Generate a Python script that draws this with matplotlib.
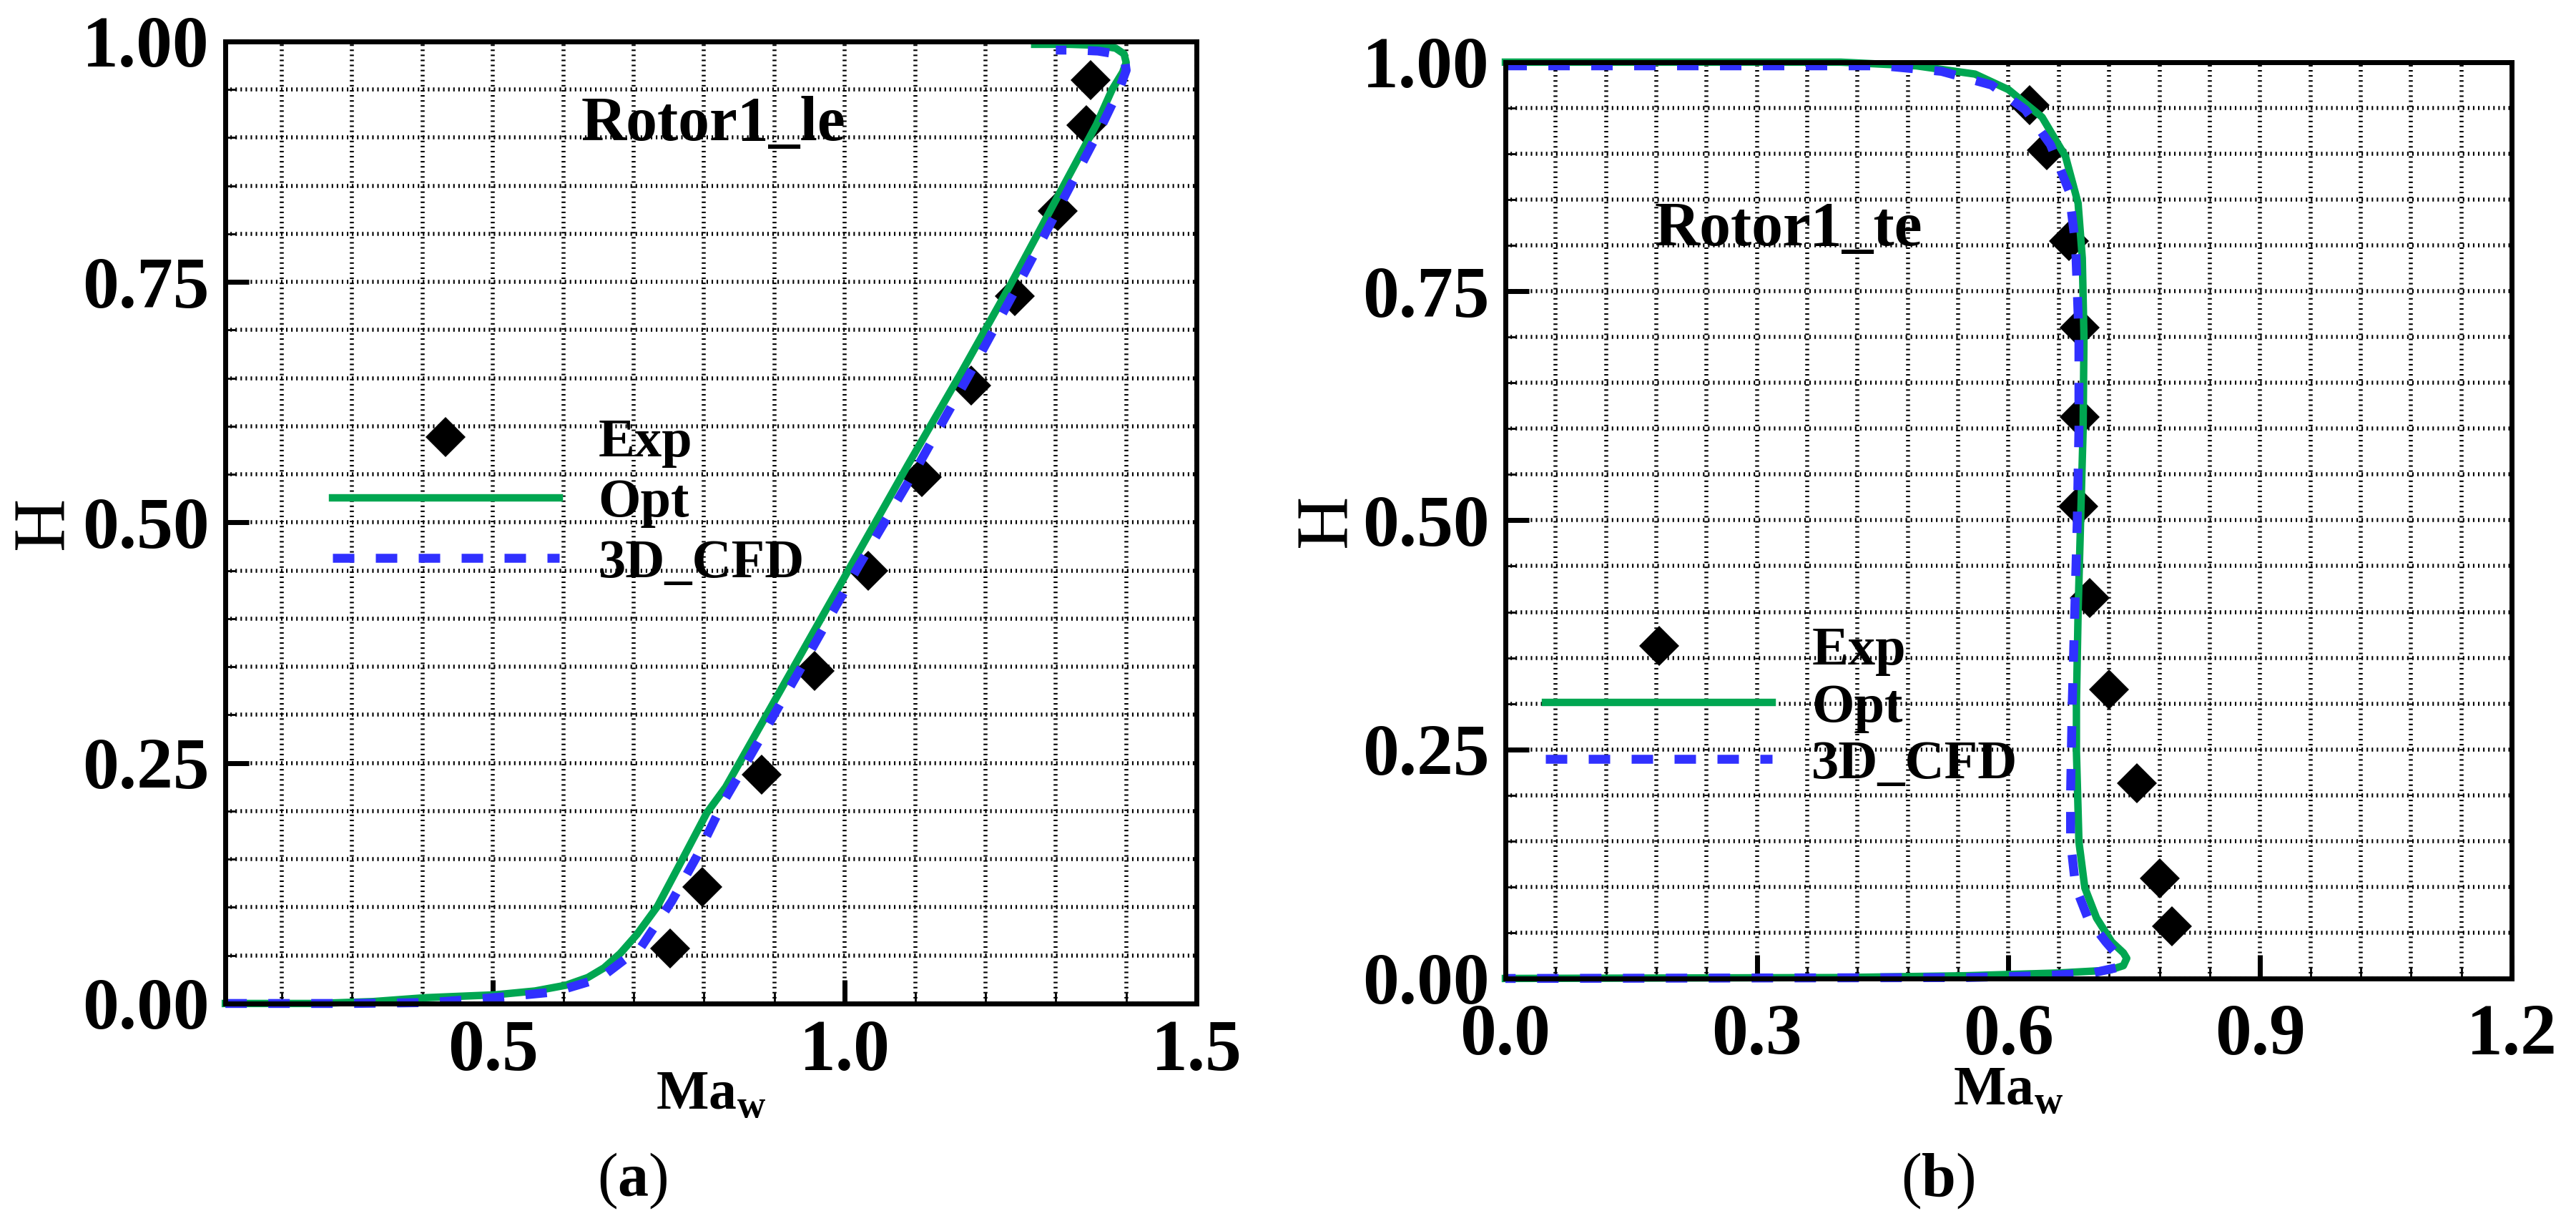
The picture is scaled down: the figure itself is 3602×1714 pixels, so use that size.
import numpy as np
import matplotlib
matplotlib.use('Agg')
import matplotlib.pyplot as plt
from matplotlib.ticker import MultipleLocator, FormatStrFormatter

# (a) Rotor1_le
le_exp_ma = [0.752, 0.798, 0.882, 0.957, 1.033, 1.110, 1.180, 1.242, 1.303, 1.343, 1.349]
le_exp_h = [0.057, 0.121, 0.238, 0.346, 0.450, 0.547, 0.642, 0.735, 0.824, 0.913, 0.960]
le_opt_ma = [0.12, 0.25, 0.33, 0.404, 0.503, 0.56, 0.604, 0.635, 0.658, 0.681, 0.705, 0.734,
             0.763, 0.804, 0.831, 0.92, 1.005, 1.09, 1.165, 1.237, 1.30, 1.358, 1.38, 1.395,
             1.40, 1.397, 1.385, 1.36, 1.32, 1.27]
le_opt_h = [0.0, 0.0, 0.002, 0.006, 0.009, 0.013, 0.019, 0.027, 0.037, 0.052, 0.072, 0.101,
            0.141, 0.198, 0.225, 0.34, 0.45, 0.56, 0.655, 0.749, 0.835, 0.914, 0.95, 0.968,
            0.978, 0.987, 0.993, 0.996, 0.997, 0.997]
le_cfd_ma = [0.12, 0.30, 0.412, 0.518, 0.588, 0.652, 0.711, 0.754, 0.79, 0.828, 0.86, 0.935,
             1.02, 1.105, 1.178, 1.245, 1.31, 1.365, 1.39, 1.40, 1.398, 1.385, 1.36, 1.33, 1.30]
le_cfd_h = [0.0, 0.0, 0.001, 0.007, 0.012, 0.026, 0.059, 0.106, 0.153, 0.21, 0.25, 0.345,
            0.455, 0.56, 0.655, 0.745, 0.835, 0.912, 0.95, 0.97, 0.98, 0.987, 0.99, 0.991, 0.991]

# (b) Rotor1_te
te_exp_ma = [0.625, 0.646, 0.672, 0.685, 0.685, 0.683, 0.697, 0.720, 0.753, 0.780, 0.795]
te_exp_h = [0.953, 0.904, 0.805, 0.710, 0.613, 0.515, 0.415, 0.315, 0.213, 0.109, 0.057]
te_opt_ma = [0.0, 0.40, 0.49, 0.56, 0.60, 0.64, 0.668, 0.683, 0.688, 0.690, 0.689, 0.686,
             0.683, 0.681, 0.681, 0.684, 0.691, 0.705, 0.723, 0.737, 0.741, 0.737, 0.72,
             0.66, 0.55, 0.40, 0.0]
te_opt_h = [1.0, 1.0, 0.996, 0.987, 0.970, 0.940, 0.897, 0.846, 0.786, 0.70, 0.60, 0.50,
            0.40, 0.30, 0.248, 0.149, 0.099, 0.066, 0.040, 0.028, 0.022, 0.014, 0.009,
            0.006, 0.003, 0.001, 0.0]
te_cfd_ma = [0.0, 0.45, 0.52, 0.58, 0.62, 0.65, 0.672, 0.68, 0.684, 0.684, 0.682, 0.679,
             0.676, 0.674, 0.674, 0.68, 0.695, 0.716, 0.733, 0.73, 0.70, 0.64, 0.55, 0.0]
te_cfd_h = [0.996, 0.996, 0.99, 0.975, 0.948, 0.91, 0.86, 0.80, 0.70, 0.60, 0.50, 0.40,
            0.30, 0.20, 0.15, 0.10, 0.065, 0.04, 0.022, 0.012, 0.006, 0.003, 0.001, 0.0]

labels = ['Exp', 'Opt', '3D_CFD']
green = '#00a651'
blue = '#3030ff'

plt.rcParams['font.family'] = ['Liberation Serif', 'DejaVu Serif']
plt.rcParams['font.weight'] = 'bold'
plt.rcParams['mathtext.fontset'] = 'custom'
plt.rcParams['mathtext.bf'] = 'Liberation Serif:bold'
plt.rcParams['mathtext.rm'] = 'Liberation Serif'
plt.rcParams['lines.scale_dashes'] = False


def draw_panel(ax, exp_ma, exp_h, opt_ma, opt_h, cfd_ma, cfd_h, xlim, xmajor, xminor,
               title, title_xy, leg_xy, leg_space, xlab_y, ylab_x, xpad):
    ax.set_xlim(*xlim)
    ax.set_ylim(0, 1)
    ax.xaxis.set_major_locator(MultipleLocator(xmajor))
    ax.xaxis.set_minor_locator(MultipleLocator(xminor))
    ax.yaxis.set_major_locator(MultipleLocator(0.25))
    ax.yaxis.set_minor_locator(MultipleLocator(0.05))
    ax.xaxis.set_major_formatter(FormatStrFormatter('%.1f'))
    ax.yaxis.set_major_formatter(FormatStrFormatter('%.2f'))
    ax.grid(which='both', color='k', linestyle=(0, (1.5, 3.6)), linewidth=4)
    ax.tick_params(which='major', direction='in', length=24, width=5, labelsize=73,
                   top=False, right=False)
    ax.tick_params(axis='x', which='major', pad=xpad)
    ax.tick_params(axis='y', which='major', pad=16)
    ax.tick_params(which='minor', direction='in', length=11, width=2, top=False, right=False)
    for s in ax.spines.values():
        s.set_linewidth(5)
        s.set_zorder(10)

    h1, = ax.plot(exp_ma, exp_h, linestyle='none', marker='D', ms=29, color='k', mew=0,
                  zorder=3, clip_on=False)
    h2, = ax.plot(opt_ma, opt_h, color=green, lw=7.5, zorder=4, clip_on=False,
                  solid_joinstyle='round')
    h3, = ax.plot(cfd_ma, cfd_h, color=blue, lw=9, dashes=(21.6, 21.6), zorder=5,
                  clip_on=False, dash_capstyle='butt')

    ax.legend([h1, h2, h3], labels, loc='center left', bbox_to_anchor=leg_xy,
              frameon=False, borderpad=0, borderaxespad=0, handlelength=4.15,
              handletextpad=0.72, labelspacing=leg_space, numpoints=1,
              prop={'size': 55, 'weight': 'bold'})
    ax.text(title_xy[0], title_xy[1], title, transform=ax.transAxes, fontsize=63,
            ha='left', va='baseline')
    ax.set_xlabel(r'$\mathbf{Ma}_\mathbf{w}$', fontsize=56, va='baseline')
    ax.xaxis.set_label_coords(0.5, xlab_y)
    ax.set_ylabel('H', fontsize=74, va='center', ha='center')
    ax.yaxis.set_label_coords(ylab_x, 0.5)


fig = plt.figure(figsize=(36.02, 17.14), dpi=100)
ax1 = fig.add_axes([0.0875, 0.1815, 0.3770, 0.7847])
ax2 = fig.add_axes([0.5844, 0.2019, 0.3906, 0.7474])

draw_panel(ax1, le_exp_ma, le_exp_h, le_opt_ma, le_opt_h, le_cfd_ma, le_cfd_h,
           (0.12, 1.5), 0.5, 0.1, 'Rotor1_le', (0.366, 0.897), (0.110, 0.520), 0.20,
           -0.110, -0.185, 16)
draw_panel(ax2, te_exp_ma, te_exp_h, te_opt_ma, te_opt_h, te_cfd_ma, te_cfd_h,
           (0.0, 1.2), 0.3, 0.06, 'Rotor1_te', (0.148, 0.80), (0.040, 0.295), 0.13,
           -0.138, -0.176, 25)

fig.text(884 / 3602, 0.024, r'($\mathbf{a}$)', ha='center', va='baseline', fontsize=62,
         fontweight='normal')
fig.text(2710 / 3602, 0.024, r'($\mathbf{b}$)', ha='center', va='baseline', fontsize=62,
         fontweight='normal')

fig.savefig('out.png', dpi=100)
